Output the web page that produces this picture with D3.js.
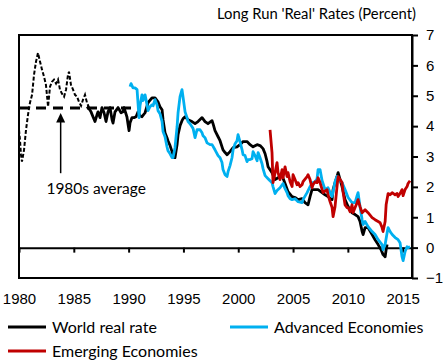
<!DOCTYPE html>
<html>
<head>
<meta charset="utf-8">
<script src="https://cdn.jsdelivr.net/npm/d3@7"></script>
<style>
  body { margin: 0; background: #fff; }
  svg { display: block; font-family: Lato, "Open Sans", sans-serif; }
  .axis path, .axis line { stroke: #000; stroke-width: 2; }
  .axis text { font-size: 15px; fill: #000; }
</style>
</head>
<body>
<svg id="chart" width="445" height="363"></svg>
<script>
// [year, percent]
var realized1980s = [[1980.0,3.88],[1980.09,3.55],[1980.18,3.06],[1980.27,2.83],[1980.46,3.22],[1980.64,3.88],[1980.82,4.37],[1981.0,4.77],[1981.19,5.03],[1981.37,5.69],[1981.55,6.12],[1981.73,6.41],[1981.92,6.12],[1982.1,5.86],[1982.28,5.63],[1982.46,5.36],[1982.65,4.64],[1982.83,5.30],[1983.01,5.46],[1983.19,5.53],[1983.38,5.40],[1983.56,5.53],[1983.74,5.20],[1983.92,5.07],[1984.11,4.97],[1984.29,5.20],[1984.47,5.69],[1984.56,5.79],[1984.74,5.36],[1984.93,5.20],[1985.11,5.03],[1985.29,4.97],[1985.47,4.80],[1985.66,4.67],[1985.84,4.87],[1986.02,5.03],[1986.2,4.77],[1986.39,4.61]];

var average1980s = [[1980, 4.6], [1990.3, 4.6]];

var worldRate = [[1986.20,4.64],[1986.39,4.57],[1986.57,4.47],[1986.75,4.31],[1986.93,4.15],[1987.12,4.38],[1987.21,4.47],[1987.39,4.28],[1987.57,4.61],[1987.76,4.44],[1987.94,4.15],[1988.12,4.47],[1988.30,4.61],[1988.49,4.21],[1988.58,4.10],[1988.76,4.47],[1989.04,4.61],[1989.31,4.44],[1989.49,4.47],[1989.58,4.61],[1989.85,4.30],[1989.95,4.05],[1990.04,3.85],[1990.13,4.11],[1990.31,4.28],[1990.49,4.28],[1990.68,4.31],[1990.86,4.47],[1991.04,4.34],[1991.22,4.31],[1991.50,4.44],[1991.77,4.77],[1992.13,4.93],[1992.41,4.93],[1992.68,4.80],[1992.86,4.64],[1993.05,4.54],[1993.14,4.21],[1993.32,3.78],[1993.50,3.62],[1993.59,3.52],[1993.78,3.36],[1993.96,3.16],[1994.05,2.96],[1994.23,2.96],[1994.42,3.39],[1994.51,3.72],[1994.69,4.01],[1994.87,4.18],[1994.96,4.24],[1995.15,4.31],[1995.42,4.21],[1995.78,4.15],[1996.06,4.08],[1996.33,4.15],[1996.70,4.28],[1996.97,4.15],[1997.24,4.08],[1997.61,4.18],[1997.70,4.08],[1997.88,3.85],[1998.16,3.65],[1998.34,3.52],[1998.61,3.22],[1998.80,3.13],[1998.98,3.06],[1999.25,3.16],[1999.53,3.29],[1999.89,3.32],[2000.16,3.39],[2000.44,3.49],[2000.80,3.49],[2001.08,3.39],[2001.35,3.32],[2001.72,3.39],[2001.99,3.36],[2002.26,3.26],[2002.45,3.09],[2002.63,2.83],[2002.72,2.66],[2003.08,2.47],[2003.36,2.24],[2003.63,2.30],[2004.00,2.37],[2004.27,2.11],[2004.54,1.84],[2004.91,1.68],[2005.18,1.65],[2005.46,1.58],[2005.82,1.61],[2006.09,1.48],[2006.37,1.41],[2006.55,1.68],[2006.73,1.91],[2007.01,1.91],[2007.28,1.91],[2007.65,1.81],[2007.92,1.74],[2008.19,1.68],[2008.56,1.58],[2008.65,1.91],[2008.83,2.14],[2009.01,2.34],[2009.11,2.47],[2009.29,2.24],[2009.47,2.01],[2009.74,1.58],[2010.02,1.35],[2010.20,1.25],[2010.38,1.15],[2010.66,1.09],[2010.93,1.02],[2011.11,0.86],[2011.30,0.53],[2011.39,0.43],[2011.57,0.66],[2011.84,0.66],[2012.21,0.43],[2012.48,0.26],[2012.76,0.10],[2013.03,-0.07],[2013.21,-0.23],[2013.40,-0.30],[2013.49,-0.07],[2013.58,0.10]];

var advanced = [[1990.13,5.30],[1990.22,5.40],[1990.40,5.26],[1990.58,5.26],[1990.77,5.20],[1990.95,4.28],[1991.04,4.67],[1991.22,5.03],[1991.31,4.84],[1991.50,5.03],[1991.68,4.70],[1991.77,4.51],[1991.95,4.64],[1992.13,4.70],[1992.23,4.67],[1992.41,4.87],[1992.59,4.70],[1992.68,4.51],[1992.86,4.41],[1993.05,4.15],[1993.14,3.82],[1993.32,3.65],[1993.50,3.32],[1993.59,3.19],[1993.78,3.09],[1993.96,2.96],[1994.05,2.96],[1994.23,3.29],[1994.42,3.98],[1994.51,4.44],[1994.69,4.97],[1994.87,5.20],[1994.96,4.97],[1995.15,4.47],[1995.33,4.28],[1995.42,4.15],[1995.60,4.08],[1995.78,3.98],[1995.88,3.92],[1996.06,3.62],[1996.24,3.88],[1996.51,3.88],[1996.70,3.78],[1996.79,3.68],[1996.97,3.62],[1997.15,3.45],[1997.43,3.39],[1997.61,3.39],[1997.88,3.22],[1998.16,3.03],[1998.34,2.96],[1998.52,2.80],[1998.61,2.57],[1998.80,2.40],[1998.98,2.34],[1999.07,2.50],[1999.25,2.70],[1999.43,2.96],[1999.53,3.22],[1999.71,3.42],[1999.89,3.52],[1999.98,3.72],[2000.16,3.49],[2000.35,3.22],[2000.44,3.06],[2000.62,3.03],[2000.80,2.83],[2000.89,2.90],[2001.08,2.90],[2001.26,2.93],[2001.35,3.16],[2001.53,3.03],[2001.72,2.86],[2001.81,3.13],[2001.99,2.96],[2002.17,2.76],[2002.26,2.60],[2002.45,2.37],[2002.72,2.27],[2002.90,2.20],[2003.08,2.14],[2003.17,2.01],[2003.36,1.78],[2003.54,1.88],[2003.81,1.97],[2004.09,2.11],[2004.27,1.94],[2004.45,1.81],[2004.54,1.71],[2004.73,1.61],[2004.91,1.58],[2005.18,1.61],[2005.46,1.51],[2005.82,1.48],[2005.91,1.58],[2006.28,1.81],[2006.55,2.01],[2006.82,2.14],[2007.01,2.17],[2007.19,2.27],[2007.28,2.57],[2007.46,2.57],[2007.65,2.20],[2007.92,1.91],[2008.19,1.97],[2008.56,1.68],[2008.65,1.84],[2008.83,2.17],[2009.01,2.34],[2009.11,2.30],[2009.47,2.14],[2009.74,1.91],[2010.02,1.65],[2010.38,1.48],[2010.66,1.48],[2010.84,1.71],[2010.93,1.81],[2011.11,1.35],[2011.30,0.92],[2011.39,0.76],[2011.57,0.86],[2011.84,0.69],[2012.21,0.53],[2012.48,0.43],[2012.76,0.26],[2013.12,0.10],[2013.21,-0.07],[2013.40,0.10],[2013.58,0.49],[2013.67,0.66],[2013.85,0.53],[2014.04,0.43],[2014.31,0.33],[2014.58,0.26],[2014.76,0.16],[2014.94,-0.30],[2015.04,-0.43],[2015.22,-0.13],[2015.40,0.03],[2015.49,0.00],[2015.67,0.03]];

var emerging = [[2002.90,3.88],[2003.08,3.13],[2003.17,2.14],[2003.36,2.47],[2003.54,2.80],[2003.63,2.47],[2003.81,2.24],[2004.00,2.57],[2004.09,2.30],[2004.27,2.66],[2004.45,2.34],[2004.54,2.47],[2004.73,2.17],[2004.91,2.01],[2005.00,2.40],[2005.18,2.24],[2005.36,2.07],[2005.46,2.14],[2005.64,2.01],[2005.82,2.07],[2005.91,2.17],[2006.28,2.34],[2006.37,2.40],[2006.55,2.24],[2006.73,1.97],[2006.82,2.07],[2007.01,2.17],[2007.19,2.14],[2007.28,2.30],[2007.46,2.14],[2007.74,1.81],[2008.10,1.91],[2008.19,1.74],[2008.38,1.51],[2008.56,1.32],[2008.65,1.02],[2008.83,1.35],[2009.01,2.01],[2009.11,2.34],[2009.29,2.24],[2009.47,2.14],[2009.56,1.84],[2009.74,1.41],[2009.93,1.32],[2010.02,1.32],[2010.20,1.18],[2010.38,1.41],[2010.47,1.15],[2010.66,1.32],[2010.84,1.48],[2010.93,1.58],[2011.11,1.35],[2011.30,1.15],[2011.57,1.25],[2011.84,1.15],[2012.21,0.99],[2012.48,0.92],[2012.76,0.86],[2012.94,0.82],[2013.12,0.66],[2013.21,0.53],[2013.40,0.86],[2013.49,1.41],[2013.67,1.78],[2013.85,1.74],[2014.04,1.81],[2014.31,1.74],[2014.49,1.78],[2014.58,1.68],[2014.76,1.78],[2014.94,1.91],[2015.04,1.71],[2015.22,1.91],[2015.40,2.01],[2015.49,2.11],[2015.67,2.20]];

var yearTicks = [1980, 1985, 1990, 1995, 2000, 2005, 2010, 2015];
var rateTicks = [-1, 0, 1, 2, 3, 4, 5, 6, 7];

var series = [
    { name: "World real rate", data: worldRate, color: "#000000" },
    { name: "Advanced Economies", data: advanced, color: "#00b0f0" },
    { name: "Emerging Economies", data: emerging, color: "#c00000" }
];

var svg = d3.select("#chart");
var margin = { top: 35, right: 33, bottom: 85, left: 19 };
var width = 445 - margin.left - margin.right;
var height = 363 - margin.top - margin.bottom;

var x = d3.scaleLinear().domain([1980, 2015.85]).range([0, width]);
var y = d3.scaleLinear().domain([-1, 7]).range([height, 0]);

var line = d3.line()
    .x(function(d) { return x(d[0]); })
    .y(function(d) { return y(d[1]); });

var g = svg.append("g").attr("transform", "translate(" + margin.left + "," + margin.top + ")");

// frame
g.append("rect")
    .attr("width", width).attr("height", height)
    .attr("fill", "none").attr("stroke", "#000").attr("stroke-width", 2);

g.append("g")
    .attr("class", "x axis")
    .attr("transform", "translate(0," + y(0) + ")")
    .call(d3.axisBottom(x).tickValues(yearTicks).tickFormat(d3.format("d"))
        .tickSize(5).tickSizeOuter(0).tickPadding(41));

g.append("g")
    .attr("class", "y axis")
    .attr("transform", "translate(" + width + ",0)")
    .call(d3.axisRight(y).tickValues(rateTicks).tickSize(6).tickSizeOuter(0).tickPadding(8));

g.append("path")
    .datum(average1980s)
    .attr("d", line)
    .attr("fill", "none").attr("stroke", "#000")
    .attr("stroke-width", 3).attr("stroke-dasharray", "10,7");

g.append("path")
    .datum(realized1980s)
    .attr("d", line)
    .attr("fill", "none").attr("stroke", "#000")
    .attr("stroke-width", 2).attr("stroke-dasharray", "4,2");

g.selectAll("path.series")
    .data(series)
    .enter().append("path")
    .attr("class", "series")
    .attr("d", function(d) { return line(d.data); })
    .attr("fill", "none")
    .attr("stroke", function(d) { return d.color; })
    .attr("stroke-width", 2.8)
    .attr("stroke-linejoin", "round");

// annotation arrow
var ax = x(1983.8);
g.append("line")
    .attr("x1", ax).attr("x2", ax)
    .attr("y1", y(2.45)).attr("y2", y(4.2))
    .attr("stroke", "#000").attr("stroke-width", 1.5);
g.append("path")
    .attr("d", "M" + ax + "," + y(4.43) + "L" + (ax - 4.5) + "," + y(4.12) + "L" + (ax + 4.5) + "," + y(4.12) + "Z")
    .attr("fill", "#000");
g.append("text")
    .attr("x", x(1982.5)).attr("y", y(1.75))
    .attr("font-size", 15.5)
    .text("1980s average");

// title
svg.append("text")
    .attr("x", 217).attr("y", 19)
    .attr("font-size", 14.8)
    .text("Long Run 'Real' Rates (Percent)");

// legend
var legendPos = [[8, 327], [230, 327], [8, 351]];
var legend = svg.selectAll("g.legendItem")
    .data(series)
    .enter().append("g")
    .attr("class", "legendItem")
    .attr("transform", function(d, i) { return "translate(" + legendPos[i][0] + "," + legendPos[i][1] + ")"; });

legend.append("line")
    .attr("x1", 0).attr("x2", 38)
    .attr("stroke", function(d) { return d.color; })
    .attr("stroke-width", 3);

legend.append("text")
    .attr("x", 44).attr("dy", "0.35em")
    .attr("font-size", 16)
    .text(function(d) { return d.name; });
</script>
</body>
</html>
